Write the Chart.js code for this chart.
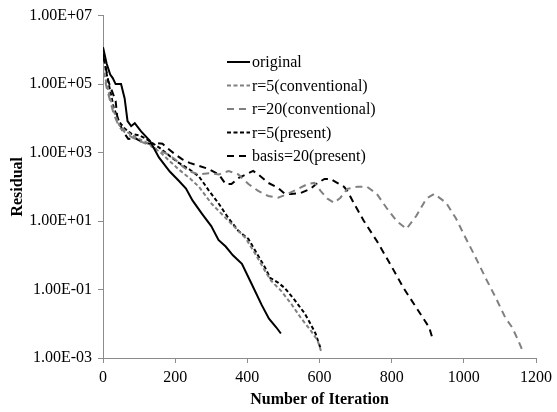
<!DOCTYPE html>
<html>
<head>
<meta charset="utf-8">
<script src="https://cdn.jsdelivr.net/npm/chart.js@4"></script>
<style>
  html, body { margin: 0; padding: 0; background: #fff; }
  #wrap { width: 557px; height: 412px; }
</style>
</head>
<body>
<div id="wrap"><canvas id="residualChart"></canvas></div>
<script>
// iteration counts and residuals
const origIter = [0, 10, 20, 27, 35, 50, 60, 68, 78, 88, 105, 130, 155, 185, 210, 230, 248, 275, 300, 320, 340, 360, 385, 410, 440, 460, 480, 493];
const origRes = [1.2e6, 4.0e5, 1.9e5, 1.5e5, 1.0e5, 1.0e5, 3.8e4, 8.3e3, 5.9e3, 7.2e3, 4.2e3, 2.2e3, 7.2e2, 2.8e2, 1.5e2, 89, 40, 16, 7.1, 2.8, 1.8, 1.0, 0.56, 0.16, 0.035, 0.014, 0.0079, 0.0052];

const conv5Iter = [0, 10, 20, 30, 45, 60, 80, 100, 120, 140, 160, 185, 210, 240, 266, 301, 329, 367, 395, 422, 449, 466, 493, 521, 548, 575, 595, 605];
const conv5Res = [3.2e5, 1.0e5, 4.0e4, 1.6e4, 6.3e3, 4.5e3, 3.2e3, 2.5e3, 2.0e3, 1.4e3, 1.0e3, 5.6e2, 3.2e2, 1.8e2, 1.0e2, 32, 16, 6.3, 3.2, 1.1, 0.35, 0.18, 0.093, 0.039, 0.015, 0.0065, 0.0032, 0.0015];

const conv20Iter = [0, 10, 20, 30, 45, 60, 80, 100, 120, 140, 160, 180, 200, 220, 240, 266, 293, 321, 348, 375, 403, 430, 458, 485, 512, 540, 567, 586, 603, 622, 641, 658, 677, 704, 732, 759, 786, 814, 841, 868, 896, 918, 951, 978, 1005, 1033, 1060, 1088, 1115, 1134, 1151, 1162];
const conv20Res = [2.5e5, 7.9e4, 3.2e4, 1.3e4, 5.6e3, 4.0e3, 2.8e3, 2.2e3, 1.8e3, 1.4e3, 1.1e3, 8.9e2, 6.3e2, 4.0e2, 2.8e2, 2.3e2, 2.5e2, 2.3e2, 2.9e2, 2.3e2, 1.2e2, 76, 54, 48, 62, 87, 1.2e2, 1.3e2, 76, 45, 34, 48, 87, 1.0e2, 1.0e2, 62, 24, 10, 5.9, 14, 45, 62, 34, 12, 3.2, 0.85, 0.22, 0.059, 0.015, 0.0078, 0.0032, 0.0017];

const pres5Iter = [0, 10, 20, 30, 45, 60, 80, 100, 120, 140, 160, 185, 210, 240, 266, 293, 321, 348, 375, 403, 422, 449, 463, 485, 504, 532, 559, 575, 589, 603];
const pres5Res = [7.9e5, 2.0e5, 6.3e4, 2.0e4, 7.9e3, 5.0e3, 3.5e3, 3.2e3, 2.5e3, 1.8e3, 1.3e3, 7.9e2, 5.0e2, 3.2e2, 2.0e2, 79, 32, 12, 5.2, 3.0, 1.35, 0.44, 0.22, 0.16, 0.11, 0.048, 0.020, 0.010, 0.0052, 0.0019];

const basisIter = [0, 8, 15, 25, 35, 40, 55, 70, 90, 110, 130, 150, 165, 180, 200, 220, 240, 266, 293, 321, 340, 356, 375, 403, 416, 430, 458, 485, 504, 521, 548, 575, 595, 614, 630, 649, 668, 677, 696, 723, 759, 795, 833, 868, 904, 915];
const basisRes = [7.2e5, 2.9e5, 1.2e5, 6.2e4, 3.2e4, 1.0e4, 4.2e3, 2.5e3, 2.6e3, 2.0e3, 1.8e3, 1.9e3, 1.8e3, 1.3e3, 8.9e2, 6.3e2, 5.0e2, 4.1e2, 3.3e2, 2.3e2, 1.2e2, 1.2e2, 1.8e2, 2.5e2, 2.9e2, 2.3e2, 1.3e2, 93, 62, 62, 66, 87, 1.3e2, 1.7e2, 1.7e2, 1.3e2, 1.0e2, 76, 32, 10, 2.6, 0.58, 0.11, 0.030, 0.0078, 0.0032];

const yTickValues = [1e-3, 1e-1, 1e1, 1e3, 1e5, 1e7];

const serif = "'Liberation Serif', 'Times New Roman', serif";
const grey = "#808080";
const axisGrey = "#8c8c8c";

function pts(xs, ys) {
    return xs.map((x, i) => ({ x: x, y: ys[i] }));
}

// 1000 -> "1.00E+03", like Excel
function sci(v) {
    const e = Math.round(Math.log10(v));
    const m = v / Math.pow(10, e);
    const sign = e < 0 ? "-" : "+";
    return m.toFixed(2) + "E" + sign + String(Math.abs(e)).padStart(2, "0");
}

// legend drawn inside the plot, top right, like the original
const insideLegend = {
    id: "insideLegend",
    afterDraw(chart) {
        const ctx = chart.ctx;
        const x0 = 227, x1 = 250, top = 62, step = 23.5;
        ctx.save();
        ctx.font = "16px " + serif;
        ctx.textBaseline = "middle";
        chart.data.datasets.forEach((ds, i) => {
            const y = top + i * step;
            ctx.beginPath();
            ctx.strokeStyle = ds.borderColor;
            ctx.lineWidth = ds.borderWidth;
            ctx.setLineDash(ds.borderDash || []);
            ctx.moveTo(x0, y);
            ctx.lineTo(x1, y);
            ctx.stroke();
            ctx.setLineDash([]);
            ctx.fillStyle = "#000";
            ctx.fillText(ds.label, x1 + 2, y + 1);
        });
        ctx.restore();
    }
};

const common = { fill: false, pointRadius: 0, tension: 0, borderWidth: 2 };

new Chart(document.getElementById("residualChart"), {
    type: "line",
    data: {
        datasets: [
            { ...common, label: "original", data: pts(origIter, origRes), borderColor: "#000" },
            { ...common, label: "r=5(conventional)", data: pts(conv5Iter, conv5Res), borderColor: grey, borderDash: [4, 2.5] },
            { ...common, label: "r=20(conventional)", data: pts(conv20Iter, conv20Res), borderColor: grey, borderDash: [7, 5] },
            { ...common, label: "r=5(present)", data: pts(pres5Iter, pres5Res), borderColor: "#000", borderDash: [4, 2.5] },
            { ...common, label: "basis=20(present)", data: pts(basisIter, basisRes), borderColor: "#000", borderDash: [7, 5] },
        ],
    },
    options: {
        responsive: true,
        maintainAspectRatio: false,
        animation: false,
        layout: { padding: { top: 14, right: 16, left: 0, bottom: 0 } },
        plugins: { legend: { display: false }, tooltip: { enabled: false } },
        scales: {
            x: {
                type: "linear",
                min: 0,
                max: 1200,
                afterFit(scale) { scale.height = 54; },
                ticks: { stepSize: 200, color: "#000", font: { family: serif, size: 16 }, padding: 5, maxRotation: 0, callback: v => String(v) },
                grid: { drawOnChartArea: false, drawTicks: true, tickLength: 5, color: axisGrey },
                border: { color: axisGrey, width: 1 },
                title: { display: true, text: "Number of Iteration", color: "#000", font: { family: serif, size: 16, weight: "bold" }, padding: { top: 2, bottom: 3 } },
            },
            y: {
                type: "logarithmic",
                min: 1e-3,
                max: 1e7,
                afterFit(scale) { scale.width = 103; },
                afterBuildTicks(scale) { scale.ticks = yTickValues.map(v => ({ value: v })); },
                ticks: { color: "#000", font: { family: serif, size: 16 }, padding: 6, callback: v => sci(v) },
                grid: { drawOnChartArea: false, drawTicks: true, tickLength: 5, color: axisGrey },
                border: { color: axisGrey, width: 1 },
                title: { display: true, text: "Residual", color: "#000", font: { family: serif, size: 16, weight: "bold" }, padding: { top: 8, bottom: 4 } },
            },
        },
    },
    plugins: [insideLegend],
});
</script>
</body>
</html>
